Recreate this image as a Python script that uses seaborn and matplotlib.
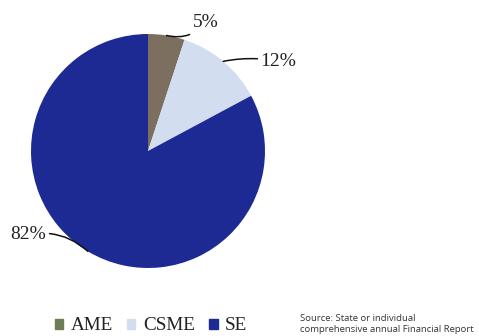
import numpy as np
import matplotlib
matplotlib.use("Agg")
import matplotlib.pyplot as plt
import seaborn as sns

# Share of plan types
categories = ["AME", "CSME", "SE"]
shares = [5, 12, 82]
labels = ["5%", "12%", "82%"]
colors = ["#7d6f60", "#d3ddf0", "#1e2a94"]
legend_colors = ["#6e7d55", "#d3ddf0", "#1e2a94"]

sns.set_style("white")
plt.rcParams["font.family"] = ["Liberation Serif", "DejaVu Serif"]

fig = plt.figure(figsize=(4.79, 3.36), dpi=100)
W, H = 479, 336
ax = fig.add_axes([31 / W, (H - 268) / H, 234 / W, 234 / H])

wedges, _ = ax.pie(shares, colors=colors, startangle=90, counterclock=False,
                   wedgeprops=dict(linewidth=0))
ax.set_xlim(-1, 1)
ax.set_ylim(-1, 1)
ax.set_aspect("equal")

# label offsets in points from each wedge's outer edge
offsets = [(19, 9), (27, 0), (-30, 12)]
rads = [-0.3, 0.1, -0.25]
for w, lab, off, rad in zip(wedges, labels, offsets, rads):
    ang = np.deg2rad((w.theta1 + w.theta2) / 2)
    x, y = np.cos(ang), np.sin(ang)
    ha = "left" if off[0] > 0 else "right"
    ax.annotate(lab, xy=(x, y), xytext=off, textcoords="offset points",
                ha=ha, va="center", fontsize=14, color="#222222",
                annotation_clip=False,
                arrowprops=dict(arrowstyle="-", color="#111111", lw=1.1,
                                shrinkA=0, shrinkB=0,
                                connectionstyle=f"arc3,rad={rad}"))

handles = [plt.Rectangle((0, 0), 1, 1, color=c) for c in legend_colors]
fig.legend(handles, categories, loc="center", ncol=3, frameon=False,
           bbox_to_anchor=(151 / W, 1 - 326 / H), fontsize=13.8,
           handlelength=0.43, handleheight=0.43, handletextpad=0.4,
           columnspacing=0.75, labelcolor="#222222", borderpad=0)

fig.text(300 / W, 1 - 324 / H,
         "Source: State or individual\ncomprehensive annual Financial Report",
         family=["Open Sans", "DejaVu Sans"], fontsize=6.8, color="#333333",
         va="center", ha="left", linespacing=1.3)

fig.savefig("out.png", dpi=100, facecolor="white")
